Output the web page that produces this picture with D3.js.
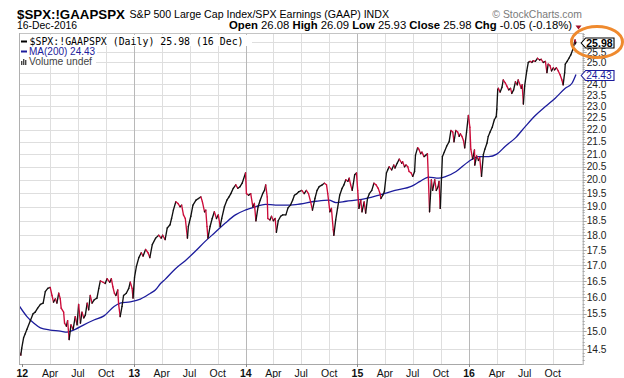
<!DOCTYPE html>
<html><head><meta charset="utf-8">
<script src="https://cdn.jsdelivr.net/npm/d3@7"></script>
<style>body{margin:0;background:#fff} svg{display:block}</style>
</head><body>
<svg id="c" width="624" height="378"></svg>
<script>
// ---------------- DATA ----------------
const priceData = [
["2011-12-22",14.42],["2011-12-27",14.33],["2011-12-30",14.52],["2012-01-05",14.81],["2012-01-10",14.92],
["2012-01-16",15.05],["2012-01-27",15.30],["2012-02-05",15.50],["2012-02-12",15.55],["2012-02-20",15.67],
["2012-02-29",15.78],["2012-03-09",15.82],["2012-03-16",16.17],["2012-03-24",16.27],["2012-04-01",16.30],
["2012-04-07",16.05],["2012-04-12",15.85],["2012-04-18",15.95],["2012-04-23",15.82],["2012-04-29",16.12],
["2012-05-04",15.95],["2012-05-07",15.67],["2012-05-15",15.55],["2012-05-18",15.23],["2012-05-24",15.14],
["2012-05-28",15.30],["2012-06-02",14.76],["2012-06-08",15.18],["2012-06-15",15.05],["2012-06-22",15.42],
["2012-06-28",15.18],["2012-07-03",15.78],["2012-07-09",15.23],["2012-07-14",15.55],["2012-07-20",15.38],
["2012-07-25",15.46],["2012-07-31",15.82],["2012-08-05",15.62],["2012-08-10",16.05],["2012-08-16",15.82],
["2012-08-23",15.92],["2012-09-01",15.97],["2012-09-07",16.27],["2012-09-12",16.50],["2012-09-21",16.46],
["2012-09-28",16.42],["2012-10-04",16.57],["2012-10-13",16.46],["2012-10-18",16.57],["2012-10-23",16.32],
["2012-10-28",16.12],["2012-11-02",16.05],["2012-11-08",16.22],["2012-11-11",15.78],["2012-11-16",15.42],
["2012-11-22",15.72],["2012-11-27",16.05],["2012-12-06",16.12],["2012-12-14",16.27],["2012-12-19",16.46],
["2012-12-25",16.27],["2012-12-28",15.97],["2013-01-02",16.62],["2013-01-08",16.96],["2013-01-16",17.25],
["2013-01-24",17.41],["2013-01-30",17.30],["2013-02-07",17.52],["2013-02-15",17.41],["2013-02-21",17.25],
["2013-03-01",17.68],["2013-03-12",17.90],["2013-03-22",18.00],["2013-03-30",17.90],["2013-04-04",18.00],
["2013-04-12",17.85],["2013-04-19",18.25],["2013-04-28",18.36],["2013-05-03",18.58],["2013-05-09",18.88],
["2013-05-17",19.18],["2013-05-24",19.12],["2013-05-31",19.00],["2013-06-05",19.06],["2013-06-11",18.71],
["2013-06-17",18.58],["2013-06-24",17.90],["2013-06-27",18.30],["2013-07-05",18.66],["2013-07-12",19.06],
["2013-07-22",19.24],["2013-07-30",19.30],["2013-08-07",19.36],["2013-08-12",19.18],["2013-08-19",18.82],
["2013-08-23",18.88],["2013-08-27",18.30],["2013-08-30",17.90],["2013-09-06",18.30],["2013-09-13",18.58],
["2013-09-20",18.82],["2013-09-27",18.58],["2013-10-03",18.71],["2013-10-09",18.30],["2013-10-14",18.58],
["2013-10-23",19.00],["2013-10-31",19.24],["2013-11-07",19.36],["2013-11-13",19.48],["2013-11-21",19.68],
["2013-11-29",19.81],["2013-12-06",19.68],["2013-12-13",19.74],["2013-12-20",19.87],["2013-12-31",20.26],
["2014-01-03",19.48],["2014-01-10",19.42],["2014-01-17",19.48],["2014-01-24",19.00],["2014-01-29",19.12],
["2014-02-03",18.50],["2014-02-10",19.00],["2014-02-17",19.24],["2014-02-25",19.48],["2014-03-03",19.60],
["2014-03-07",19.81],["2014-03-12",19.36],["2014-03-14",18.58],["2014-03-21",18.53],["2014-03-26",18.66],
["2014-04-01",18.50],["2014-04-07",18.58],["2014-04-11",18.10],["2014-04-17",18.50],["2014-04-25",18.66],
["2014-05-02",18.71],["2014-05-12",18.71],["2014-05-19",18.96],["2014-05-27",19.06],["2014-06-03",19.24],
["2014-06-09",19.42],["2014-06-17",19.48],["2014-06-23",19.55],["2014-07-03",19.60],["2014-07-11",19.48],
["2014-07-18",19.60],["2014-07-25",19.48],["2014-08-01",19.18],["2014-08-07",18.88],["2014-08-15",19.30],
["2014-08-22",19.60],["2014-08-29",19.74],["2014-09-08",19.81],["2014-09-15",19.87],["2014-09-22",19.81],
["2014-09-26",19.48],["2014-10-03",18.82],["2014-10-08",18.94],["2014-10-14",18.19],["2014-10-16",18.00],
["2014-10-22",18.53],["2014-10-28",18.94],["2014-11-04",19.42],["2014-11-12",19.68],["2014-11-18",19.81],
["2014-11-24",20.00],["2014-12-01",19.94],["2014-12-05",20.06],["2014-12-10",19.81],["2014-12-15",19.60],
["2014-12-19",19.87],["2014-12-23",20.19],["2014-12-29",20.26],["2015-01-02",19.60],["2015-01-06",18.94],
["2015-01-12",19.24],["2015-01-16",18.82],["2015-01-23",19.18],["2015-01-28",18.77],["2015-02-03",19.30],
["2015-02-09",19.48],["2015-02-17",19.60],["2015-02-24",19.87],["2015-03-03",19.81],["2015-03-10",19.68],
["2015-03-16",19.48],["2015-03-19",19.30],["2015-03-25",19.42],["2015-03-30",19.55],["2015-04-06",20.26],
["2015-04-10",20.38],["2015-04-15",20.50],["2015-04-23",20.38],["2015-04-30",20.57],["2015-05-04",20.45],
["2015-05-11",20.64],["2015-05-18",20.80],["2015-05-26",20.64],["2015-05-29",20.70],["2015-06-04",20.50],
["2015-06-09",20.57],["2015-06-15",20.50],["2015-06-19",20.32],["2015-06-26",20.26],["2015-07-01",20.13],
["2015-07-07",20.32],["2015-07-10",20.96],["2015-07-17",21.26],["2015-07-21",21.20],["2015-07-27",21.02],
["2015-07-31",21.08],["2015-08-07",20.90],["2015-08-13",20.96],["2015-08-18",21.02],["2015-08-21",20.13],
["2015-08-25",18.82],["2015-08-31",20.00],["2015-09-04",19.60],["2015-09-11",20.00],["2015-09-16",19.60],
["2015-09-22",19.74],["2015-09-25",19.94],["2015-09-29",18.94],["2015-10-06",20.90],["2015-10-12",21.08],
["2015-10-20",21.32],["2015-10-28",21.50],["2015-11-03",21.97],["2015-11-09",21.90],["2015-11-13",21.50],
["2015-11-19",21.97],["2015-11-25",21.90],["2015-11-30",21.72],["2015-12-04",21.83],["2015-12-09",21.72],
["2015-12-14",21.55],["2015-12-18",21.25],["2015-12-24",21.90],["2015-12-30",22.60],["2016-01-04",22.10],
["2016-01-07",21.20],["2016-01-13",20.80],["2016-01-19",21.17],["2016-01-20",20.57],["2016-01-26",20.93],
["2016-02-01",20.75],["2016-02-05",20.87],["2016-02-11",20.13],["2016-02-17",20.98],["2016-02-22",21.20],
["2016-02-29",21.45],["2016-03-04",21.72],["2016-03-10",21.90],["2016-03-17",22.10],["2016-03-24",22.42],
["2016-03-30",22.55],["2016-04-01",22.87],["2016-04-04",23.73],["2016-04-06",23.80],["2016-04-12",23.63],
["2016-04-18",23.85],["2016-04-22",24.18],["2016-04-29",24.04],["2016-05-04",23.90],["2016-05-10",23.73],
["2016-05-16",23.80],["2016-05-20",23.57],["2016-05-26",23.73],["2016-06-01",24.10],["2016-06-07",23.96],
["2016-06-10",24.18],["2016-06-20",23.80],["2016-06-23",23.96],["2016-06-27",23.10],["2016-07-01",23.90],
["2016-07-08",24.60],["2016-07-13",25.00],["2016-07-19",25.05],["2016-07-25",25.00],["2016-07-29",25.08],
["2016-08-05",25.05],["2016-08-12",25.20],["2016-08-19",25.12],["2016-08-24",25.15],["2016-08-31",25.00],
["2016-09-07",25.05],["2016-09-12",24.52],["2016-09-16",24.92],["2016-09-22",24.85],["2016-09-27",24.60],
["2016-10-03",24.75],["2016-10-07",24.65],["2016-10-13",24.75],["2016-10-19",24.60],["2016-10-25",24.42],
["2016-10-31",24.18],["2016-11-04",23.96],["2016-11-09",24.52],["2016-11-11",24.92],["2016-11-17",25.05],
["2016-11-23",25.20],["2016-11-29",25.36],["2016-12-05",25.60],["2016-12-09",25.84],["2016-12-13",26.09],
["2016-12-14",25.90],["2016-12-16",25.98]
];
const maData = [
["2011-12-23",15.72],["2012-01-16",15.42],["2012-02-07",15.23],["2012-02-29",15.09],["2012-04-01",15.03],
["2012-05-04",15.00],["2012-05-26",14.97],["2012-06-22",15.05],["2012-07-20",15.18],["2012-08-22",15.32],
["2012-09-24",15.44],["2012-10-27",15.72],["2012-11-16",15.82],["2012-12-19",15.86],["2013-01-21",15.94],
["2013-02-23",16.12],["2013-03-11",16.22],["2013-03-28",16.42],["2013-04-12",16.55],["2013-05-15",16.88],
["2013-06-17",17.15],["2013-07-19",17.45],["2013-08-21",17.79],["2013-09-23",18.10],["2013-10-26",18.42],
["2013-11-28",18.71],["2013-12-30",18.88],["2014-02-01",19.00],["2014-03-06",19.09],["2014-04-08",19.06],
["2014-05-11",19.06],["2014-06-13",19.08],["2014-08-18",19.20],["2014-09-30",19.24],["2014-10-23",19.15],
["2014-11-25",19.20],["2015-01-15",19.27],["2015-03-10",19.42],["2015-05-04",19.60],["2015-06-28",19.76],
["2015-07-25",19.94],["2015-08-22",20.10],["2015-09-23",20.06],["2015-10-18",20.13],["2015-11-20",20.32],
["2015-12-30",20.70],["2016-02-01",20.90],["2016-03-05",20.90],["2016-04-01",21.00],["2016-04-29",21.32],
["2016-06-01",21.66],["2016-07-03",22.13],["2016-08-05",22.60],["2016-09-08",23.00],["2016-10-10",23.37],
["2016-11-11",23.80],["2016-12-03",24.03],["2016-12-16",24.43]
];
const yTickValues = [14.5,15.0,15.5,16.0,16.5,17.0,17.5,18.0,18.5,19.0,19.5,20.0,20.5,21.0,21.5,22.0,22.5,23.0,23.5,24.0,24.5,25.0,25.5,26.0];
const monthNames = {3:"Apr",6:"Jul",9:"Oct"};
const xDomain = ["2011-12-21","2017-01-07"];
const yDomain = [14.09, 26.44];
const lastClose = 25.98, lastMA = 24.43;
const titleSymbol = "$SPX:!GAAPSPX";
const titleName = "S&P 500 Large Cap Index/SPX Earnings (GAAP) INDX";
const dateText = "16-Dec-2016";
const quoteItems = [["Open","26.08"],["High","26.09"],["Low","25.93"],["Close","25.98"],["Chg","-0.05 (-0.18%)"]];
const legendPrice = "$SPX:!GAAPSPX (Daily) 25.98 (16 Dec)";
const legendMA = "MA(200) 24.43";
const legendVol = "Volume undef";

// ---------------- CHART ----------------
const parse = d3.timeParse("%Y-%m-%d");
const svg = d3.select("#c");
const L = 19, R = 582.7, T = 33, B = 364;
const x = d3.scaleTime().domain(xDomain.map(parse)).range([L, R]);
const y = d3.scaleLog().domain(yDomain).range([B, T]);
const price = priceData.map(d => ({d: parse(d[0]), v: d[1]}));
const ma = maData.map(d => ({d: parse(d[0]), v: d[1]}));
const sans = "'Liberation Sans', Arial, sans-serif";
const closeTagY = Math.round(y(lastClose)) + 1;
const maTagY = Math.round(y(lastMA)) + 0.5;

// gridlines
const g = svg.append("g");
g.selectAll(".hg").data(yTickValues).join("line")
  .attr("x1", L).attr("x2", R).attr("y1", d => Math.round(y(d)) + 0.5).attr("y2", d => Math.round(y(d)) + 0.5)
  .attr("stroke", "#dedede").attr("stroke-width", 1);
const quarterTicks = d3.timeMonth.every(3).range(parse("2012-01-01"), parse("2017-01-01"));
g.selectAll(".vg").data(quarterTicks.filter(d => d.getMonth() !== 0 || d.getFullYear() !== 2012)).join("line")
  .attr("x1", d => Math.round(x(d)) + 0.5).attr("x2", d => Math.round(x(d)) + 0.5).attr("y1", T).attr("y2", B)
  .attr("stroke", d => d.getMonth() === 0 ? "#b8b8b8" : "#dedede").attr("stroke-width", 1);

// frame
svg.append("line").attr("x1", L).attr("x2", R).attr("y1", T + 0.5).attr("y2", T + 0.5).attr("stroke", "#c4c4c4");
svg.append("line").attr("x1", L + 0.5).attr("x2", L + 0.5).attr("y1", T).attr("y2", B).attr("stroke", "#b0b0b0");
svg.append("line").attr("x1", L).attr("x2", R).attr("y1", B + 0.5).attr("y2", B + 0.5).attr("stroke", "#a8a8a8");
svg.append("line").attr("x1", R + 0.5).attr("x2", R + 0.5).attr("y1", T).attr("y2", B + 1).attr("stroke", "#a8a8a8");

// right axis minor / major ticks
const minor = d3.range(142, 265).map(i => i / 10);
svg.selectAll(".mt").data(minor).join("line")
  .attr("x1", R).attr("x2", d => R + (Math.abs(d * 2 - Math.round(d * 2)) < 1e-6 ? 4 : 2))
  .attr("y1", d => Math.round(y(d)) + 0.5).attr("y2", d => Math.round(y(d)) + 0.5)
  .attr("stroke", "#a8a8a8");

// right axis labels (those hidden by the last-value tags are skipped, as in the source)
const shownLabels = yTickValues.filter(v => Math.abs(y(v) - closeTagY) > 8 && Math.abs(y(v) - maTagY) > 7);
svg.selectAll(".yl").data(shownLabels).join("text")
  .attr("x", R + 4).attr("y", d => y(d) + 3.6)
  .attr("font-family", sans).attr("font-size", 10.2).attr("fill", "#222")
  .text(d => d.toFixed(1));

// bottom axis labels
svg.selectAll(".xl").data(quarterTicks).join("text")
  .attr("x", d => x(d)).attr("y", 376.5).attr("text-anchor", "middle")
  .attr("font-family", sans).attr("font-size", 10.5)
  .attr("font-weight", d => d.getMonth() === 0 ? "bold" : "normal").attr("fill", "#111")
  .text(d => d.getMonth() === 0 ? d3.timeFormat("%y")(d) : monthNames[d.getMonth()]);
svg.selectAll(".xt").data(quarterTicks.filter(d => d.getMonth() === 0)).join("line")
  .attr("x1", d => Math.round(x(d)) + 0.5).attr("x2", d => Math.round(x(d)) + 0.5).attr("y1", B).attr("y2", B + 3)
  .attr("stroke", "#888");

// plot clip
svg.append("clipPath").attr("id", "clip").append("rect").attr("x", L + 1).attr("y", T + 1).attr("width", R - L - 1).attr("height", B - T - 1);
const plot = svg.append("g").attr("clip-path", "url(#clip)");

// MA line
plot.append("path").datum(ma)
  .attr("d", d3.line().curve(d3.curveMonotoneX).x(d => x(d.d)).y(d => y(d.v)))
  .attr("fill", "none").attr("stroke", "#1c1c9c").attr("stroke-width", 1.3);

// price line, black up / red down
const segs = d3.pairs(price);
plot.selectAll(".seg").data(segs).join("line")
  .attr("x1", d => x(d[0].d)).attr("y1", d => y(d[0].v))
  .attr("x2", d => x(d[1].d)).attr("y2", d => y(d[1].v))
  .attr("stroke", d => d[1].v >= d[0].v ? "#111" : "#cc0c3a")
  .attr("stroke-width", 1.35).attr("stroke-linecap", "round");

// legend
const lg = svg.append("g");
lg.append("rect").attr("x", L + 1).attr("y", T + 2).attr("width", 232).attr("height", 11).attr("fill", "#fff");
lg.append("rect").attr("x", L + 1).attr("y", T + 13).attr("width", 77).attr("height", 10).attr("fill", "#fff");
lg.append("rect").attr("x", L + 1).attr("y", T + 23).attr("width", 76).attr("height", 10).attr("fill", "#fff");
lg.append("line").attr("x1", 21).attr("x2", 27).attr("y1", 41.5).attr("y2", 41.5).attr("stroke", "#000").attr("stroke-width", 2);
lg.append("text").attr("x", 29.5).attr("y", 45).attr("font-family", "'DejaVu Sans Mono', monospace").attr("font-size", 9.9).attr("fill", "#000").text(legendPrice);
lg.append("line").attr("x1", 21).attr("x2", 27).attr("y1", 51.5).attr("y2", 51.5).attr("stroke", "#1c1c9c").attr("stroke-width", 2);
lg.append("text").attr("x", 29).attr("y", 55).attr("font-family", sans).attr("font-size", 10).attr("fill", "#1c1c9c").text(legendMA);
[[21,4],[23,6],[25,5]].forEach(b => lg.append("rect").attr("x", b[0]).attr("y", 65 - b[1]).attr("width", 1.4).attr("height", b[1]).attr("fill", "#444"));
lg.append("text").attr("x", 29).attr("y", 65).attr("font-family", sans).attr("font-size", 10.3).attr("fill", "#444").text(legendVol);

// header
svg.append("text").attr("x", 17).attr("y", 18.5).attr("font-family", sans).attr("font-size", 13.3).attr("font-weight", "bold").attr("fill", "#000").text(titleSymbol);
svg.append("text").attr("x", 129.5).attr("y", 18).attr("font-family", sans).attr("font-size", 10.6).attr("fill", "#000").text(titleName);
svg.append("text").attr("x", 582).attr("y", 17.5).attr("text-anchor", "end").attr("font-family", sans).attr("font-size", 10.4).attr("fill", "#7a7a7a").text("\u00A9 StockCharts.com");
svg.append("text").attr("x", 17).attr("y", 29.2).attr("font-family", sans).attr("font-size", 10.4).attr("fill", "#000").text(dateText);
const q = svg.append("text").attr("x", 572).attr("y", 28.8).attr("text-anchor", "end").attr("font-family", sans).attr("font-size", 11.3).attr("fill", "#000");
quoteItems.forEach((it, i) => {
  q.append("tspan").attr("font-weight", "bold").text((i ? " " : "") + it[0]);
  q.append("tspan").text(" " + it[1]);
});
svg.append("path").attr("d", "M575.5,25.5 L581.5,25.5 L578.5,29.5 Z").attr("fill", "#a0102a");

// last value tags
function tag(yc, color, txt, bold) {
  const x0 = R - 1.5, x1 = 614, h = 5;
  svg.append("path").attr("d", `M${x0},${yc} L${x0 + 4.5},${yc - h} L${x1},${yc - h} L${x1},${yc + h} L${x0 + 4.5},${yc + h} Z`)
    .attr("fill", "#fff").attr("stroke", color).attr("stroke-width", 1.1);
  svg.append("text").attr("x", x0 + 5).attr("y", yc + 3.6).attr("font-family", sans).attr("font-size", bold ? 10.6 : 10.2)
    .attr("font-weight", bold ? "bold" : "normal").attr("fill", color).text(txt);
}
tag(maTagY, "#1c1c9c", lastMA.toFixed(2), false);
tag(closeTagY, "#000", lastClose.toFixed(2), true);

// orange annotation ellipse
svg.append("ellipse").attr("cx", 597).attr("cy", 42).attr("rx", 25.5).attr("ry", 15.5)
  .attr("fill", "none").attr("stroke", "#ef8a2e").attr("stroke-width", 3);
</script>
</body></html>
